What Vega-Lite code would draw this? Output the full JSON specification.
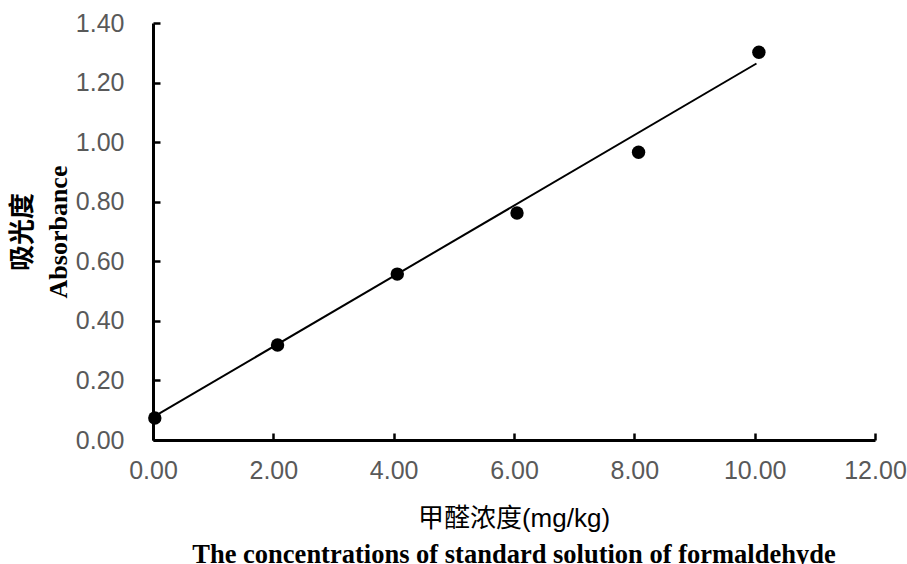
{
  "$schema": "https://vega.github.io/schema/vega-lite/v6.json",
  "width": 722,
  "height": 417,
  "autosize": {"type": "none"},
  "padding": {"left": 153, "top": 23, "right": 32, "bottom": 124},
  "background": "white",
  "datasets": {
    "points": [
      {"conc": 0.03, "abs": 0.074},
      {"conc": 2.07, "abs": 0.319},
      {"conc": 4.06, "abs": 0.557},
      {"conc": 6.05, "abs": 0.762},
      {"conc": 8.07, "abs": 0.966},
      {"conc": 10.07, "abs": 1.302}
    ],
    "trend": [
      {"conc": 0.03, "abs": 0.08},
      {"conc": 10.03, "abs": 1.264}
    ]
  },
  "config": {
    "view": {"stroke": null},
    "axis": {
      "grid": false,
      "domainColor": "black",
      "domainWidth": 3,
      "tickColor": "black",
      "tickWidth": 2.5,
      "tickSize": -7,
      "labelColor": "#595959",
      "labelFont": "Liberation Sans",
      "labelFontSize": 25,
      "labelFlush": false
    }
  },
  "title": {
    "text": "甲醛浓度(mg/kg)",
    "subtitle": "The concentrations of standard solution of formaldehyde",
    "orient": "bottom",
    "anchor": "middle",
    "font": "Liberation Sans, Noto Sans CJK SC",
    "fontSize": 26,
    "fontWeight": "normal",
    "color": "black",
    "subtitleFont": "Liberation Serif",
    "subtitleFontSize": 26.5,
    "subtitleFontWeight": "bold",
    "subtitleColor": "black",
    "offset": 23,
    "subtitlePadding": 10
  },
  "layer": [
    {
      "data": {"name": "trend"},
      "mark": {"type": "line", "color": "black", "strokeWidth": 2},
      "encoding": {
        "x": {"field": "conc", "type": "quantitative", "scale": {"domain": [0, 12], "nice": false},
              "axis": {"values": [0, 2, 4, 6, 8, 10, 12], "format": ".2f", "title": null, "labelPadding": 25}},
        "y": {"field": "abs", "type": "quantitative", "scale": {"domain": [0, 1.4], "nice": false},
              "axis": {"values": [0, 0.2, 0.4, 0.6, 0.8, 1.0, 1.2, 1.4], "format": ".2f", "labelPadding": 36,
                       "title": ["吸光度", "Absorbance"], "titleFont": "Liberation Serif, Noto Sans CJK SC",
                       "titleFontWeight": "bold", "titleFontSize": 26, "titleColor": "black", "titleLineHeight": 36, "titlePadding": 4}}
      }
    },
    {
      "data": {"name": "points"},
      "mark": {"type": "point", "shape": "circle", "filled": true, "color": "black", "opacity": 1, "size": 180},
      "encoding": {
        "x": {"field": "conc", "type": "quantitative"},
        "y": {"field": "abs", "type": "quantitative"}
      }
    }
  ]
}
